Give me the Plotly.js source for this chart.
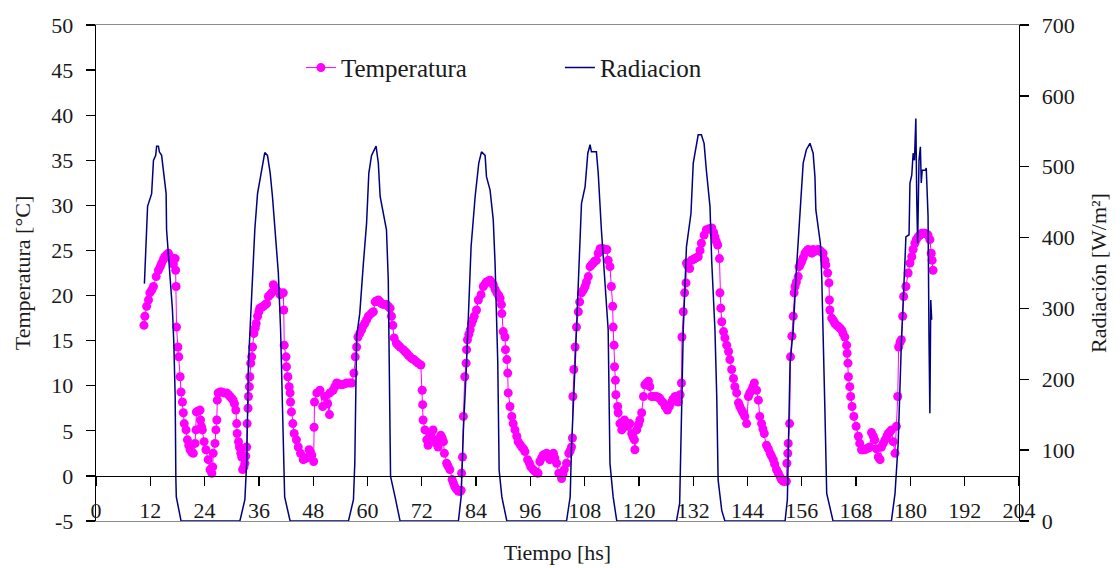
<!DOCTYPE html>
<html>
<head>
<meta charset="utf-8">
<script src="https://cdn.plot.ly/plotly-3.0.1.min.js"></script>
<style>
html,body{margin:0;padding:0;background:#fff;}
#chart{width:1120px;height:568px;}
</style>
</head>
<body>
<div id="chart"></div>
<script>
// ---- Data ----
const tempHours = [
10.6,10.8,11.2,11.6,11.9,12.3,12.7,13.3,13.8,14.2,
14.5,14.9,15.2,15.6,16.0,16.4,16.7,17.1,17.5,17.6,
17.7,17.8,18.1,18.3,18.6,18.8,19.1,19.3,19.5,19.9,
20.2,20.5,20.8,21.2,21.5,21.9,22.1,22.2,22.6,23.0,
23.1,23.3,23.5,23.9,24.3,24.8,25.2,25.6,25.8,25.9,
26.3,26.5,26.7,26.8,27.0,27.4,27.8,28.3,28.9,29.3,
29.6,30.0,30.3,30.6,30.9,31.1,31.2,31.5,31.7,32.0,
32.2,32.4,32.7,32.9,33.1,33.3,33.4,33.6,33.7,33.9,
34.0,34.2,34.4,34.6,34.9,35.2,35.4,35.7,36.0,36.2,
36.6,37.0,37.4,37.7,38.1,38.5,38.8,39.2,39.5,39.9,
40.3,40.7,41.0,41.4,41.5,41.6,42.0,42.1,42.4,42.7,
42.9,43.0,43.2,43.5,43.8,44.3,44.7,45.2,45.8,46.2,
46.6,47.1,47.4,47.7,48.1,48.2,48.3,48.8,49.5,50.1,
50.6,51.2,51.6,51.7,52.4,52.8,53.2,53.8,54.3,54.9,
55.4,56.0,56.5,57.0,57.3,57.6,57.9,58.3,58.7,59.0,
59.4,59.8,60.2,60.8,61.3,61.7,62.0,62.4,62.8,63.1,
63.6,64.2,64.6,65.0,65.3,65.6,65.9,66.4,66.8,67.2,
67.9,68.3,68.7,69.0,69.4,69.8,70.3,70.7,71.2,71.8,
72.1,72.2,72.3,72.7,73.1,73.4,73.8,74.1,74.5,74.9,
75.2,75.6,76.2,76.5,76.8,77.0,77.5,77.8,78.2,78.7,
79.0,79.3,79.7,80.1,80.5,80.7,80.8,81.0,81.2,81.5,
81.8,81.9,82.1,82.4,82.7,83.0,83.3,83.6,84.1,84.5,
85.1,85.6,86.0,86.3,86.7,87.1,87.5,87.8,88.2,88.6,
89.0,89.3,89.6,89.7,90.0,90.4,90.5,90.8,91.0,91.1,
91.5,91.9,92.2,92.6,93.0,93.3,93.7,94.1,94.5,94.8,
95.4,95.8,96.1,96.6,97.0,97.4,97.7,98.1,98.5,98.8,
99.2,99.6,100.0,100.3,100.7,101.1,101.4,101.8,102.3,102.9,
103.2,103.5,104.0,104.5,104.8,105.1,105.3,105.4,105.6,105.9,
106.2,106.6,106.9,107.3,107.7,108.1,108.4,108.8,109.2,109.5,
109.9,110.2,110.6,111.0,111.4,111.8,112.1,112.5,112.9,113.2,
113.6,113.9,114.2,114.3,114.5,114.6,114.8,114.9,115.3,115.4,
115.8,116.2,116.5,116.8,117.0,117.3,117.7,118.0,118.4,118.7,
119.0,119.1,119.5,119.9,120.2,120.6,121.0,121.3,121.7,122.1,
122.4,122.8,123.3,123.9,124.3,124.6,125.0,125.4,125.8,126.3,
126.7,127.1,127.5,128.0,128.4,128.7,129.1,129.4,129.5,129.8,
130.1,130.4,130.5,130.8,131.2,131.6,132.0,132.3,132.7,133.1,
133.5,133.8,134.4,134.9,135.5,136.1,136.5,136.8,137.1,137.4,
137.8,137.9,138.1,138.3,138.7,139.0,139.4,139.8,140.1,140.5,
140.9,141.2,141.6,142.0,142.3,142.7,143.0,143.4,143.8,144.2,
144.5,144.9,145.2,145.5,146.0,146.4,146.7,147.1,147.4,147.7,
148.2,148.6,149.0,149.3,149.7,150.0,150.4,150.8,151.2,151.5,
151.9,152.2,152.6,152.7,152.9,153.0,153.3,153.5,153.8,154.1,
154.3,154.5,154.8,155.2,155.4,155.7,156.0,156.3,156.7,157.0,
157.4,157.8,158.2,158.5,158.9,159.2,159.6,160.0,160.4,160.7,
161.1,161.3,161.7,162.0,162.1,162.2,162.6,163.0,163.3,163.7,
164.0,164.4,164.8,165.1,165.5,165.9,166.0,166.2,166.3,166.6,
166.8,167.1,167.5,168.0,168.5,168.8,169.2,169.5,169.9,170.3,
170.7,171.0,171.4,171.8,172.1,172.5,172.9,173.3,173.6,174.0,
174.4,174.8,175.1,175.5,175.8,176.2,176.6,176.9,177.2,177.4,
177.7,178.0,178.3,178.5,179.0,179.5,179.9,180.3,180.6,181.0,
181.3,181.7,182.1,182.5,182.9,183.2,183.6,183.9,184.3,184.6,
184.8,185.0
];
const tempC = [
16.7,17.7,18.8,19.5,20.3,20.6,21.0,22.1,22.8,23.2,
23.6,24.0,24.3,24.5,24.7,24.3,24.1,23.5,24.1,22.8,
21.0,16.5,14.3,13.2,11.0,9.3,8.2,7.0,5.8,5.1,
4.0,3.4,2.9,2.6,2.5,3.6,5.1,7.1,7.2,7.3,
6.2,5.5,5.1,3.8,2.9,1.8,0.7,0.3,1.0,2.5,
3.6,5.1,6.2,8.4,9.2,9.3,9.3,9.2,9.2,9.0,
8.8,8.6,8.4,8.0,7.3,5.8,4.7,3.8,3.2,2.5,
2.1,0.7,1.0,1.4,2.2,3.2,5.8,7.5,8.8,9.9,
11.0,12.5,13.2,14.3,15.8,16.4,16.9,17.7,18.2,18.6,
18.7,18.8,19.0,19.1,19.9,20.1,20.3,21.2,20.9,20.6,
20.4,20.1,20.2,20.3,18.4,14.5,13.2,12.1,11.0,9.9,
9.2,8.2,7.1,5.8,4.7,4.0,3.2,2.5,1.8,1.9,
2.0,2.9,2.6,2.3,1.6,5.4,8.2,9.2,9.5,7.7,
8.8,8.0,6.8,9.2,9.5,9.9,10.3,10.2,10.1,10.2,
10.3,10.3,10.3,11.4,13.2,14.3,15.4,15.8,16.2,16.6,
16.9,17.3,17.7,18.0,18.2,19.3,19.4,19.5,19.3,19.1,
19.0,19.0,18.8,18.6,17.7,16.7,15.3,14.7,14.5,14.3,
14.0,13.8,13.6,13.4,13.2,13.0,12.9,12.7,12.5,12.3,
9.5,7.9,6.2,5.1,4.0,3.4,4.4,4.8,5.1,4.0,
3.6,3.2,4.5,4.2,3.8,2.5,1.4,1.1,0.7,-0.4,
-0.8,-1.2,-1.5,-1.7,-1.7,-1.6,0.3,2.1,6.6,11.0,
12.5,14.0,15.1,15.7,16.2,16.9,17.3,17.7,18.4,19.5,
20.1,21.0,21.3,21.5,21.6,21.7,21.4,21.2,20.7,20.3,
20.0,19.7,19.0,18.0,16.0,15.4,14.0,12.9,11.4,9.2,
7.7,6.6,5.8,5.1,4.4,3.8,3.5,3.2,3.0,2.7,
1.8,1.4,1.0,0.7,0.5,0.4,0.3,1.6,2.0,2.3,
2.4,2.5,2.1,1.8,2.2,2.5,2.0,1.4,0.3,-0.3,
0.2,0.7,1.4,2.5,2.8,3.2,4.2,8.8,11.8,14.3,
16.5,18.2,19.3,20.3,20.6,21.0,21.5,22.1,23.2,23.4,
23.6,23.8,23.9,24.7,25.2,25.2,25.2,25.1,25.1,23.9,
23.2,21.0,18.8,16.5,14.5,12.1,10.6,9.0,7.7,7.0,
5.8,5.1,5.6,6.2,5.9,5.5,5.6,5.8,4.7,4.3,
4.0,2.9,5.1,5.7,6.2,7.0,8.8,10.1,10.3,10.5,
9.9,8.8,8.8,8.8,8.7,8.6,8.3,8.1,7.7,7.3,
7.7,8.1,8.5,8.8,8.5,8.2,9.0,10.3,15.4,18.2,
20.3,21.4,23.6,23.3,23.0,23.9,24.0,24.1,24.2,24.3,
25.0,25.8,26.7,27.3,27.4,27.5,27.0,26.5,26.0,25.6,
24.1,20.3,18.6,17.1,16.0,15.3,14.5,13.8,12.9,11.8,
10.8,9.9,9.2,8.1,7.7,7.3,7.0,6.6,5.8,8.8,
9.2,9.5,9.9,10.3,9.5,8.4,6.6,5.8,5.2,4.7,
3.4,3.0,2.5,2.2,1.8,1.3,0.7,0.3,-0.1,-0.4,
-0.6,-0.6,-0.6,1.4,2.5,3.6,5.8,13.2,15.5,17.7,
20.3,21.0,21.5,22.1,23.2,23.5,23.8,24.2,24.7,24.9,
25.1,24.9,24.7,25.1,24.9,25.0,25.1,25.0,24.8,24.7,
23.9,23.4,22.5,21.4,19.5,18.4,17.5,17.2,16.9,16.7,
16.6,16.4,16.2,15.8,15.4,14.5,13.6,12.5,11.0,9.9,
8.8,7.7,6.6,5.5,4.4,3.6,2.9,2.9,2.9,3.0,
3.1,3.2,4.8,4.4,4.0,3.0,2.1,1.8,3.2,3.6,
4.0,4.4,4.7,4.9,5.1,3.8,2.5,5.5,8.8,14.3,
14.8,15.1,17.7,19.9,21.0,22.5,23.6,24.3,25.1,25.8,
26.2,26.5,26.7,26.9,26.9,26.9,26.8,26.7,26.2,24.7,
23.9,22.8
];
const radHours = [
10.7,11.0,11.3,11.4,12.3,12.7,13.2,13.4,13.8,14.0,14.5,14.9,15.5,15.6,16.2,16.9,17.2,17.5,17.65,17.75,18.8,
31.8,32.9,33.3,33.7,34.4,34.9,35.1,35.7,36.5,37.0,37.3,37.9,38.5,39.0,39.6,40.3,40.8,41.2,41.5,41.7,42.9,
55.8,56.9,57.2,57.6,58.3,59.1,59.8,60.3,60.9,61.9,62.4,62.8,63.5,64.2,64.6,64.8,65.1,66.1,67.2,
80.1,80.7,81.2,81.9,82.9,83.8,84.6,85.2,86.0,86.3,87.1,87.8,88.2,88.8,89.1,89.7,90.8,
104.0,104.8,105.1,105.9,106.6,107.3,108.1,108.7,109.2,109.5,110.6,111.0,111.7,112.5,113.2,113.6,114.3,115.1,
128.3,129.0,129.4,129.8,130.5,131.5,132.0,132.7,133.1,133.8,134.4,134.9,135.7,136.1,136.8,137.2,137.5,138.3,139.0,
152.3,152.8,153.4,154.1,154.8,155.6,156.3,157.0,157.8,158.5,158.9,159.1,159.6,160.1,160.4,160.7,161.1,161.5,162.2,162.9,
175.8,176.6,177.3,178.0,178.8,179.0,179.7,179.9,180.3,180.6,180.9,181.2,181.4,181.6,181.9,182.2,182.4,182.6,183.0,183.3,183.5,183.9,184.1,184.3,184.5,184.7
];
const radWm2 = [
335,378,411,444,462,509,516,529,529,521,516,491,462,411,364,298,251,175,60,34,0,
0,30,82,223,317,364,411,462,491,514,520,516,491,458,411,350,270,175,82,34,0,
0,30,82,260,293,364,420,491,516,529,505,458,434,411,340,223,63,34,0,
0,34,128,223,387,458,505,521,516,486,467,425,364,223,72,34,0,
0,34,105,223,340,448,472,519,531,521,521,491,411,340,270,81,34,0,
0,25,128,270,387,434,505,533,545,545,533,495,444,364,270,175,58,15,0,
0,30,223,270,354,434,505,524,533,519,486,439,415,392,345,274,157,39,20,0,
0,39,110,251,368,401,404,477,488,519,509,568,453,392,509,528,477,495,495,495,498,430,265,152,312,284
];
const xTicks = [0,12,24,36,48,60,72,84,96,108,120,132,144,156,168,180,192,204];
const tempTicks = [-5,0,5,10,15,20,25,30,35,40,45,50];
const radTicks = [0,100,200,300,400,500,600,700];

// ---- Chart ----
const serif = '"Liberation Serif", "Times New Roman", serif';
const txt = '#1a1a1a';
const traces = [
  {
    name: 'Temperatura', x: tempHours, y: tempC, xaxis: 'x', yaxis: 'y',
    type: 'scatter', mode: 'lines+markers',
    line: {color: '#ff00ff', width: 1},
    marker: {color: '#ff00ff', size: 9}
  },
  {
    name: 'Radiacion', x: radHours, y: radWm2, xaxis: 'x', yaxis: 'y2',
    type: 'scatter', mode: 'lines',
    line: {color: '#000080', width: 1.5}
  },
  {
    // empty trace so that the bottom label axis (x2) is drawn
    name: '', x: [], y: [], xaxis: 'x2', yaxis: 'y',
    type: 'scatter', mode: 'markers', showlegend: false, hoverinfo: 'skip'
  }
];

const layout = {
  width: 1120, height: 568,
  margin: {l: 96, r: 101, t: 25, b: 47, pad: 0},
  paper_bgcolor: '#ffffff', plot_bgcolor: '#ffffff',
  font: {family: serif, size: 21, color: txt},
  showlegend: true,
  legend: {
    orientation: 'h', x: 0.222, y: 0.96, xanchor: 'left', yanchor: 'top',
    bgcolor: 'rgba(0,0,0,0)', font: {family: serif, size: 25, color: txt},
    entrywidth: 214, entrywidthmode: 'pixels'
  },
  xaxis: {
    range: [0, 204], anchor: 'free', position: 5 / 55,
    tickmode: 'array', tickvals: xTicks, showticklabels: false,
    ticks: 'outside', ticklen: 9, tickcolor: '#000', tickwidth: 1.3,
    showline: true, linecolor: '#000', linewidth: 1.3,
    showgrid: false, zeroline: false
  },
  xaxis2: {
    range: [0, 204], overlaying: 'x', anchor: 'y', side: 'bottom',
    tickmode: 'array', tickvals: xTicks, ticktext: xTicks.map(String),
    ticks: '', ticklabelposition: 'inside', ticklabeloverflow: 'allow',
    showline: true, mirror: true, linecolor: '#8c8c8c', linewidth: 1.3,
    showgrid: false, zeroline: false,
    tickfont: {family: serif, size: 22, color: txt},
    title: {text: 'Tiempo [hs]', font: {family: serif, size: 22, color: txt}, standoff: 22}
  },
  yaxis: {
    range: [-5, 50], tickmode: 'array', tickvals: tempTicks, ticktext: tempTicks.map(String),
    ticks: 'outside', ticklen: 9, tickcolor: '#000', tickwidth: 1.3,
    showline: true, linecolor: '#000', linewidth: 1.3,
    showgrid: false, zeroline: false, ticklabelstandoff: 8,
    tickfont: {family: serif, size: 22, color: txt},
    title: {text: 'Temperatura [°C]', font: {family: serif, size: 22, color: txt}, standoff: 14}
  },
  yaxis2: {
    range: [0, 700], tickmode: 'array', tickvals: radTicks, ticktext: radTicks.map(String),
    overlaying: 'y', side: 'right', anchor: 'x',
    ticks: 'outside', ticklen: 9, tickcolor: '#000', tickwidth: 1.3,
    showline: true, linecolor: '#000', linewidth: 1.3,
    showgrid: false, zeroline: false, ticklabelstandoff: 8,
    tickfont: {family: serif, size: 22, color: txt},
    title: {text: 'Radiación [W/m²]', font: {family: serif, size: 22, color: txt}, standoff: 17}
  }
};

Plotly.newPlot('chart', traces, layout, {displayModeBar: false, staticPlot: true});
</script>
</body>
</html>
